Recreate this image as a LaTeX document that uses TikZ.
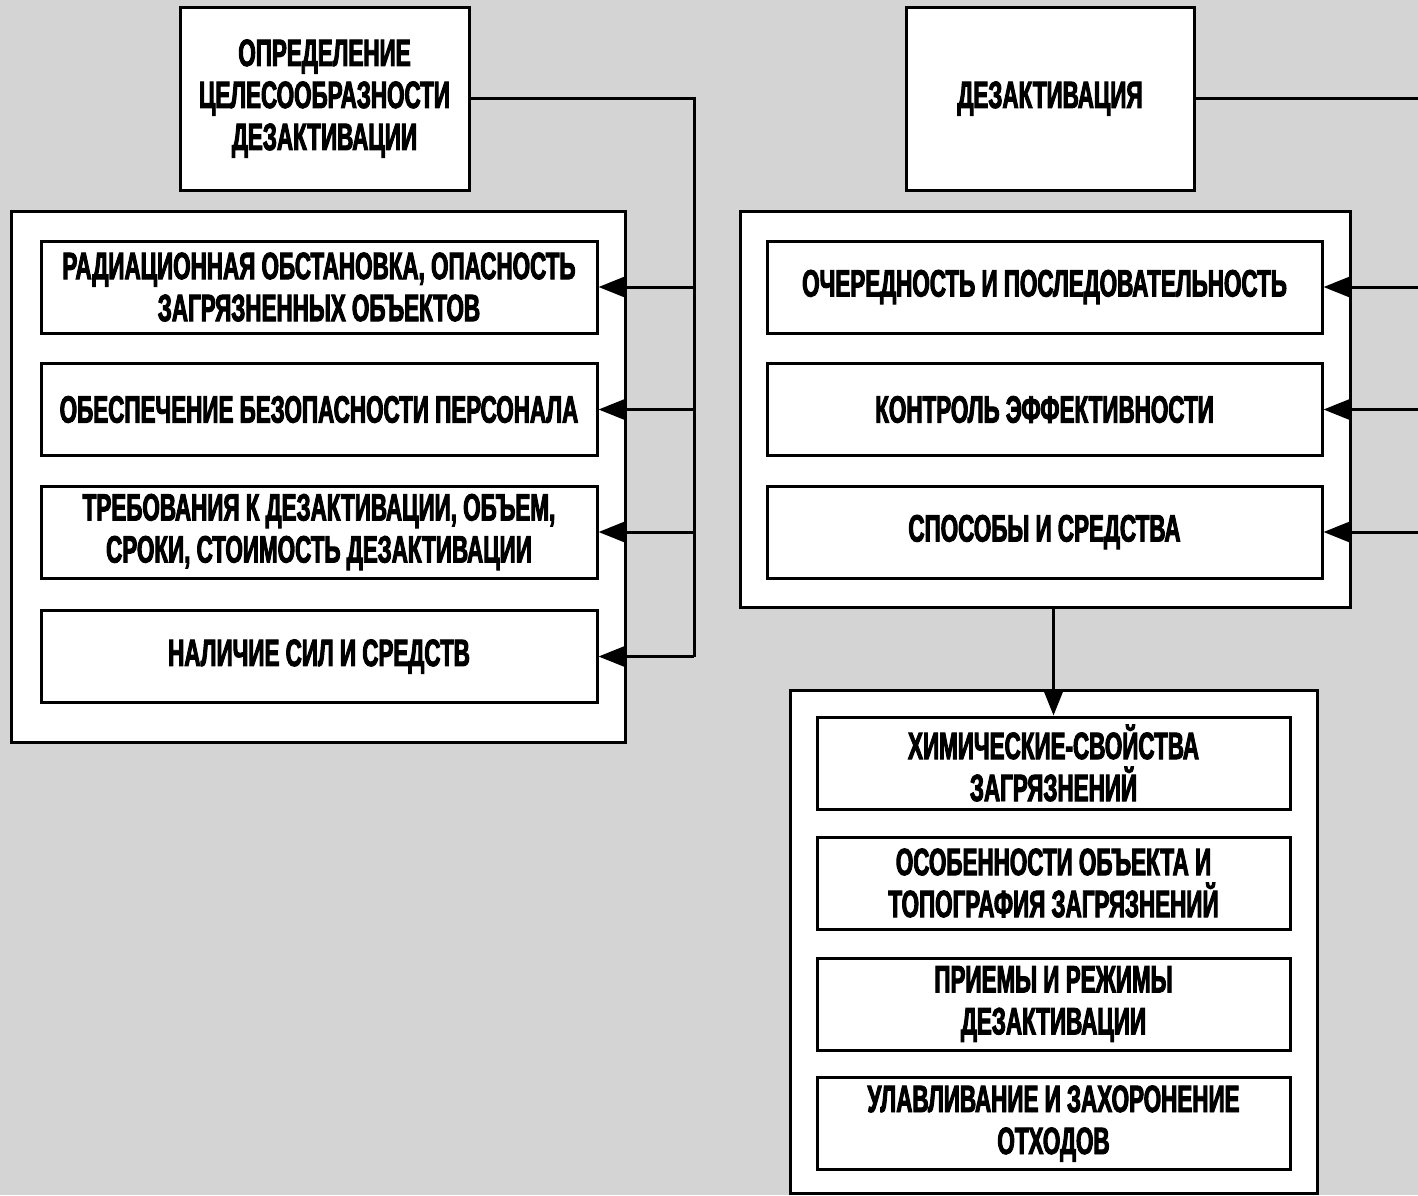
\documentclass[tikz,border=0pt]{standalone}
\usepackage{fontspec}
\setmainfont{Liberation Sans}[FakeStretch=0.59, FakeBold=2.5]
\usetikzlibrary{arrows.meta}
\definecolor{bgcol}{RGB}{212,212,212}
\tikzset{
  box/.style={draw, line width=3pt, fill=white, inner sep=0pt, align=center,
    font=\fontsize{38}{42}\selectfont\bfseries},
  conn/.style={line width=3pt},
  arr/.style={line width=3pt, -{Triangle[length=26pt,width=20pt]}},
}
\begin{document}
\begin{tikzpicture}[x=1pt,y=-1pt]
\fill[bgcol] (0,0) rectangle (1418,1195);
\useasboundingbox (0,0) rectangle (1418,1195);
% left group
\node[box, minimum width=289pt, minimum height=183pt] (def) at (324.5,98.5) {ОПРЕДЕЛЕНИЕ\\ЦЕЛЕСООБРАЗНОСТИ\\ДЕЗАКТИВАЦИИ};
\node[box, minimum width=614pt, minimum height=531pt] (lout) at (318,476.5) {};
\node[box, minimum width=556pt, minimum height=92pt] (l1) at (319,287) {РАДИАЦИОННАЯ ОБСТАНОВКА, ОПАСНОСТЬ\\ЗАГРЯЗНЕННЫХ ОБЪЕКТОВ};
\node[box, minimum width=556pt, minimum height=92pt] (l2) at (319,409.5) {ОБЕСПЕЧЕНИЕ БЕЗОПАСНОСТИ ПЕРСОНАЛА};
\node[box, minimum width=556pt, minimum height=92pt] (l3) at (319,532) {ТРЕБОВАНИЯ К ДЕЗАКТИВАЦИИ, ОБЪЕМ,\\СРОКИ, СТОИМОСТЬ ДЕЗАКТИВАЦИИ};
\node[box, minimum width=556pt, minimum height=92pt] (l4) at (319,656.5) {НАЛИЧИЕ СИЛ И СРЕДСТВ};
% right group
\node[box, minimum width=288pt, minimum height=183pt] (dez) at (1050,98.5) {ДЕЗАКТИВАЦИЯ};
\node[box, minimum width=610pt, minimum height=396pt] (rout) at (1045,409) {};
\node[box, minimum width=555pt, minimum height=92pt] (r1) at (1044.5,287) {ОЧЕРЕДНОСТЬ И ПОСЛЕДОВАТЕЛЬНОСТЬ};
\node[box, minimum width=555pt, minimum height=92pt] (r2) at (1044.5,409.5) {КОНТРОЛЬ ЭФФЕКТИВНОСТИ};
\node[box, minimum width=555pt, minimum height=92pt] (r3) at (1044.5,532) {СПОСОБЫ И СРЕДСТВА};
% bottom group
\node[box, minimum width=527pt, minimum height=503pt] (bout) at (1053.5,941.5) {};
\node[box, minimum width=473pt, minimum height=92pt] (b1) at (1053.5,763) {ХИМИЧЕСКИЕ-СВОЙСТВА\\ЗАГРЯЗНЕНИЙ};
\node[box, minimum width=473pt, minimum height=92pt] (b2) at (1053.5,883) {ОСОБЕННОСТИ ОБЪЕКТА И\\ТОПОГРАФИЯ ЗАГРЯЗНЕНИЙ};
\node[box, minimum width=473pt, minimum height=92pt] (b3) at (1053.5,1004) {ПРИЕМЫ И РЕЖИМЫ\\ДЕЗАКТИВАЦИИ};
\node[box, minimum width=473pt, minimum height=92pt] (b4) at (1053.5,1123.5) {УЛАВЛИВАНИЕ И ЗАХОРОНЕНИЕ\\ОТХОДОВ};
% connectors left
\coordinate (lt) at (694,98.5);
\coordinate (lb) at (694,656.5);
\draw[conn] (def.east) -- (lt) -- (lb);
\draw[arr] (lt |- l1.east) -- (l1.east);
\draw[arr] (lt |- l2.east) -- (l2.east);
\draw[arr] (lt |- l3.east) -- (l3.east);
\draw[arr] (lb) -- (l4.east);
% connectors right
\coordinate (rt) at (1418,98.5);
\draw[conn] (dez.east) -- (rt);
\draw[arr] (rt |- r1.east) -- (r1.east);
\draw[arr] (rt |- r2.east) -- (r2.east);
\draw[arr] (rt |- r3.east) -- (r3.east);
% down
\draw[arr] (b1.north |- rout.south) -- (b1.north);
\end{tikzpicture}
\end{document}
